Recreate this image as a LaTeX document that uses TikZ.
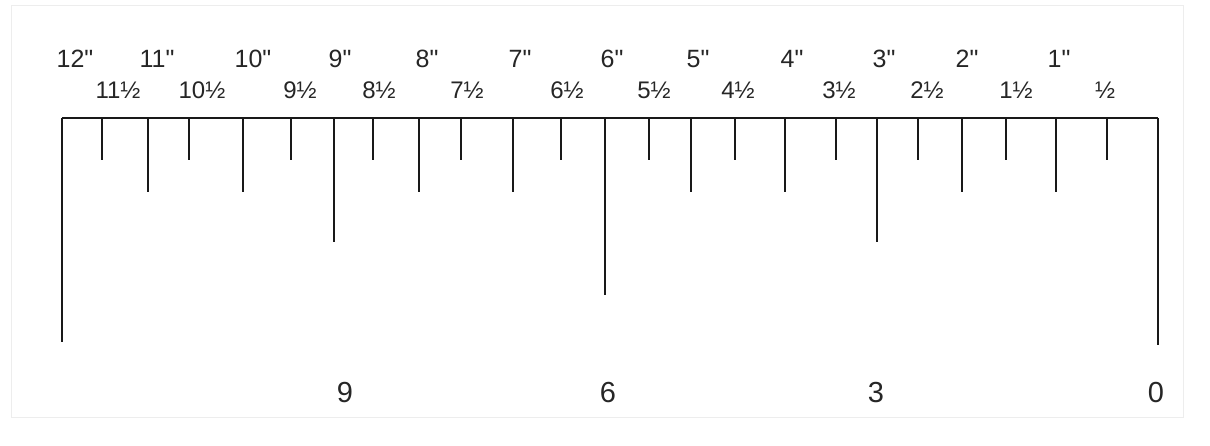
\documentclass[tikz,border=0pt]{standalone}
\usepackage{fontspec}
\setmainfont{Liberation Sans}
\begin{document}
\begin{tikzpicture}[x=1pt,y=-1pt,
  inchlbl/.style={inner sep=0pt,anchor=base,font=\fontsize{25}{28}\selectfont,text=black!85},
  halflbl/.style={inner sep=0pt,anchor=base,font=\fontsize{24}{27}\selectfont,text=black!85},
  footlbl/.style={inner sep=0pt,anchor=base,font=\fontsize{29}{32}\selectfont,text=black!85},
  tick/.style={line width=1.8pt,black!90},
  edge/.style={line width=2.8pt,black!90},
  frame/.style={line width=0.8pt,black!7}]
\useasboundingbox (0,0) rectangle (1210,445);
\draw[frame] (11,5) rectangle (1183,417);
% ruler edge
\coordinate (L) at (62,118);
\coordinate (R) at (1158,118);
\draw[edge] (L) -- (R);
% ticks: x / end y
\foreach \x/\e in {62/342,102/160,148/192,189/160,243/192,291/160,334/242,373/160,419/192,461/160,513/192,561/160,605/295,649/160,691/192,735/160,785/192,836/160,877/242,918/160,962/192,1006/160,1056/192,1107/160,1158/345}
  \draw[tick] (\x,118) -- (\x,\e);
% inch labels
\foreach \x/\t [count=\i] in {75/12,157/11,253/10,340/9,427/8,520/7,612/6,698/5,792/4,884/3,967/2,1059/1}
  \node[inchlbl] (in\i) at (\x,67) {\t\textquotedbl};
% half labels
\foreach \x/\t [count=\i] in {118/11,202/10,300/9,379/8,467/7,567/6,654/5,738/4,839/3,927/2,1016/1}
  \node[halflbl] (hf\i) at (\x,98) {\t½};
\node[halflbl] (hf12) at (1105,98) {½};
% foot labels
\node[footlbl] (f9) at (345,402) {9};
\node[footlbl] (f6) at (608,402) {6};
\node[footlbl] (f3) at (876,402) {3};
\node[footlbl] (f0) at (1156,402) {0};
\end{tikzpicture}
\end{document}
